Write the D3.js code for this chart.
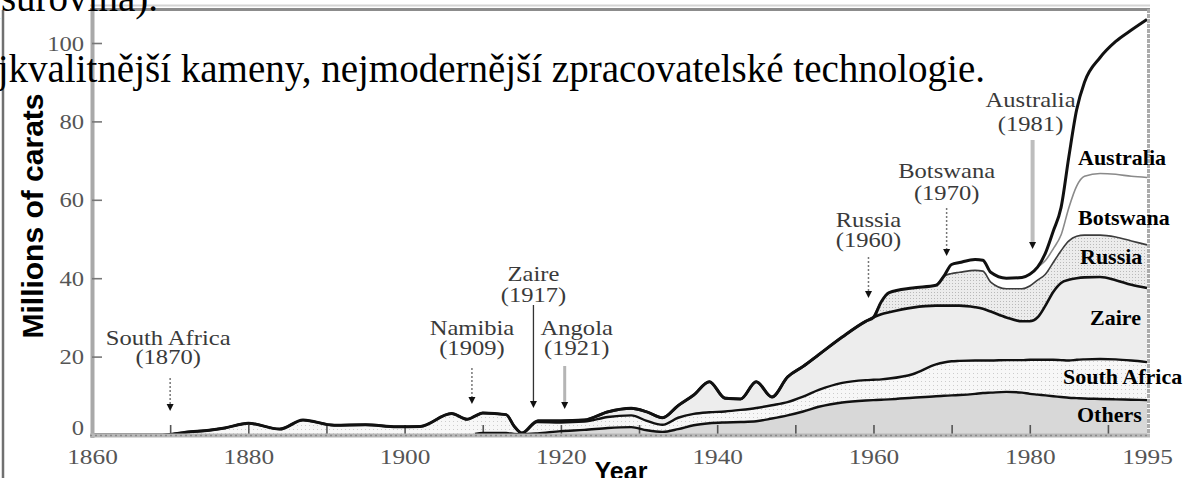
<!DOCTYPE html>
<html>
<head>
<meta charset="utf-8">
<script src="https://cdn.jsdelivr.net/npm/d3@7"></script>
<style>
  html, body { margin: 0; padding: 0; background: #fff; overflow: hidden; }
  svg { display: block; }
</style>
</head>
<body>
<div id="chart"></div>
<script>
// world diamond production, millions of carats
const years = [1860,1869,1870,1872,1875,1877,1880,1884,1887,1891,
               1895,1899,1902,1906,1908,1909,1910,1913,1914,1915,
               1917,1920,1923,1926,1929,1931,1933,1935,1937,1939,
               1941,1943,1945,1947,1949,1951,1953,1956,1959,1960,
               1961,1962,1965,1968,1969,1970,1971,1973,1974,1975,
               1977,1979,1980,1981,1982,1983,1984,1985,1986,1987,
               1989,1991,1993,1995];

const others = [0,0,0,0,0,0,0,0,0,0,
                0,0,0,0,0,0.3,0.5,0.5,0.3,0.2,
                0.4,1.0,1.3,1.8,2.0,1.2,0.8,1.5,2.5,3.0,
                3.2,3.3,3.5,4.2,5.0,6.0,7.2,8.3,8.8,8.9,
                9.0,9.1,9.5,9.9,10.0,10.1,10.2,10.5,10.7,10.8,
                11.0,10.8,10.5,10.3,10.1,9.9,9.7,9.5,9.4,9.3,
                9.2,9.1,9.0,8.9];

const southAfrica = [0,0,0.1,0.7,1.2,1.8,3.0,1.5,3.8,2.5,
                     2.6,2.1,2.2,5.5,4.0,4.5,5.1,4.7,2.0,0.3,
                     2.9,2.2,2.1,2.8,3.0,2.4,1.8,2.9,2.9,2.8,
                     2.8,3.1,3.4,3.4,3.4,3.8,4.3,5.0,5.2,5.2,
                     5.2,5.3,6.0,8.1,8.5,8.7,8.7,8.5,8.3,8.2,
                     8.1,8.3,8.7,8.9,9.1,9.3,9.4,9.5,9.8,10.0,
                     10.2,10.2,10.0,9.7];

const zaire = [0,0,0,0,0,0,0,0,0,0,
               0,0,0,0,0,0,0,0,0,0,
               0.3,0.4,0.4,1.3,1.8,2.3,1.8,3.1,4.8,7.8,
               3.4,2.8,6.7,2.1,6.4,7.7,9.0,11.7,15.0,15.9,
               16.6,16.9,17.0,15.0,14.5,14.2,14.1,13.6,13.2,12.5,
               10.9,9.9,9.8,10.8,13.8,17.3,19.7,20.6,20.8,20.9,
               20.9,20.2,19.3,18.9];

const russia = [0,0,0,0,0,0,0,0,0,0,
                0,0,0,0,0,0,0,0,0,0,
                0,0,0,0,0,0,0,0,0,0,
                0,0,0,0,0,0,0,0,0,0,
                3.2,5.0,5.0,5.2,7.5,8.2,8.5,9.4,9.6,7.5,
                7.3,8.3,9.0,9.5,8.0,7.5,8.2,9.9,10.7,10.8,
                10.7,11.0,11.2,11.0];

const botswana = [0,0,0,0,0,0,0,0,0,0,
                  0,0,0,0,0,0,0,0,0,0,
                  0,0,0,0,0,0,0,0,0,0,
                  0,0,0,0,0,0,0,0,0,0,
                  0,0,0,0,0,2.3,2.5,2.8,2.8,2.5,
                  2.7,2.9,3.0,3.3,3.5,3.5,4.0,8.5,12.8,15.0,
                  15.7,16.0,16.5,17.2];

const australia = [0,0,0,0,0,0,0,0,0,0,
                   0,0,0,0,0,0,0,0,0,0,
                   0,0,0,0,0,0,0,0,0,0,
                   0,0,0,0,0,0,0,0,0,0,
                   0,0,0,0,0,0,0,0,0,0,
                   0,0,0,0,1.9,4.5,7.0,13.0,19.5,24.0,
                   29.6,33.9,37.3,40.3];

const keys = ["others","southAfrica","zaire","russia","botswana","australia"];
const seriesLabels = ["Others","South Africa","Zaire","Russia","Botswana","Australia"];
const lineStart = [1909,1870,1917,1960,1969,1860];

const yTicks = [0,20,40,60,80,100];
const xTicks = [1860,1880,1900,1920,1940,1960,1980,1995];
const minorTicks = [1870,1880,1890,1900,1910,1920,1930,1940,1950,1960,1970,1980,1990];

const entryNames = ["South Africa","Namibia","Zaire","Angola","Russia","Botswana","Australia"];
const entryYears = [1870,1909,1917,1921,1960,1970,1981];

// layout only: arrow offset, arrow top/tip, label offset and baselines
const entryLayout = [
  {dx:0,  top:378, tip:411, ldx:-2, l1:345, l2:364, kind:"dash"},
  {dx:-3, top:368, tip:404, ldx:0,  l1:335, l2:355, kind:"dash"},
  {dx:-4, top:305, tip:408, ldx:0,  l1:281, l2:302, kind:"solid"},
  {dx:-4, top:366, tip:409, ldx:12, l1:335, l2:355, kind:"thick"},
  {dx:-5, top:257, tip:298, ldx:0,  l1:227, l2:247, kind:"dash"},
  {dx:-5, top:208, tip:256, ldx:0,  l1:178, l2:200, kind:"dash"},
  {dx:-5, top:140, tip:249, ldx:-2, l1:107, l2:131, kind:"wide"}
];
const sideLabelPos = [
  {x:1077, y:422}, {x:1063, y:384}, {x:1090, y:325},
  {x:1080, y:264}, {x:1078, y:225}, {x:1078, y:165}
];

const W = 1187, H = 478;
const serif = "'Liberation Serif','Times New Roman',serif";
const sans = "'Liberation Sans',Arial,sans-serif";

const svg = d3.select("#chart").append("svg")
  .attr("width", W).attr("height", H);

const x = d3.scaleLinear().domain([1860, 1995]).range([92, 1147]);
const y = d3.scaleLinear().domain([0, 100]).range([435, 43]);

const defs = svg.append("defs");
function dots(id, size, bg, fg) {
  const p = defs.append("pattern").attr("id", id)
    .attr("width", size).attr("height", size).attr("patternUnits", "userSpaceOnUse");
  p.append("rect").attr("width", size).attr("height", size).attr("fill", bg);
  p.append("rect").attr("x", 1).attr("y", 1).attr("width", 1).attr("height", 1).attr("fill", fg);
}
dots("dotsLight", 4, "#f7f7f7", "#cccccc");
dots("dotsRussia", 3, "#ececec", "#b9b9b9");

const fills = ["#d8d8d8", "url(#dotsLight)", "#ededed", "url(#dotsRussia)", "#ffffff", "#ffffff"];

const data = { others, southAfrica, zaire, russia, botswana, australia };
const rows = years.map((yr, i) => {
  const r = { year: yr };
  keys.forEach(k => r[k] = data[k][i]);
  return r;
});
const stacked = d3.stack().keys(keys)(rows);

const area = d3.area()
  .x(d => x(d.data.year))
  .y0(d => y(d[0]))
  .y1(d => y(d[1]))
  .curve(d3.curveMonotoneX);

svg.append("g").selectAll("path")
  .data(stacked)
  .join("path")
  .attr("d", area)
  .attr("fill", (d, i) => fills[i]);

// minor ticks on the year axis (drawn over the areas)
svg.append("g")
  .attr("transform", "translate(0,435)")
  .call(d3.axisBottom(x).tickValues(minorTicks).tickSize(-10).tickFormat("").tickSizeOuter(0))
  .call(g => g.select(".domain").remove())
  .call(g => g.selectAll("line").attr("stroke", "#555").attr("stroke-width", 1.6));

// boundary lines, thin ones first
const lineStyle = [
  {stroke:"#111", w:2.4}, {stroke:"#111", w:2.4}, {stroke:"#111", w:2.6},
  {stroke:"#3c3c3c", w:1.6}, {stroke:"#8a8a8a", w:1.6}, {stroke:"#111", w:3}
];
const drawOrder = [4, 3, 0, 1, 2, 5];
drawOrder.forEach(i => {
  const line = d3.line()
    .defined(d => d.data.year >= lineStart[i])
    .x(d => x(d.data.year))
    .y(d => y(d[1]))
    .curve(d3.curveMonotoneX);
  svg.append("path")
    .datum(stacked[i])
    .attr("d", line)
    .attr("fill", "none")
    .attr("stroke", lineStyle[i].stroke)
    .attr("stroke-width", lineStyle[i].w)
    .attr("stroke-linejoin", "round");
});

// frame
svg.append("line").attr("x1", 90).attr("x2", 1150).attr("y1", 5.5).attr("y2", 5.5)
  .attr("stroke", "#d4d4d4").attr("stroke-width", 2);
svg.append("line").attr("x1", 90).attr("x2", 1150).attr("y1", 9.5).attr("y2", 9.5)
  .attr("stroke", "#8c8c8c").attr("stroke-width", 3);
svg.append("line").attr("x1", 1148.5).attr("x2", 1148.5).attr("y1", 9).attr("y2", 436)
  .attr("stroke", "#ababab").attr("stroke-width", 3).attr("stroke-dasharray", "4,1");
svg.append("line").attr("x1", 92.5).attr("x2", 92.5).attr("y1", 8).attr("y2", 438)
  .attr("stroke", "#a9a9a9").attr("stroke-width", 4);
svg.append("line").attr("x1", 90).attr("x2", 1150).attr("y1", 435.5).attr("y2", 435.5)
  .attr("stroke", "#b8b8b8").attr("stroke-width", 4);
svg.append("line").attr("x1", 90).attr("x2", 1150).attr("y1", 435.5).attr("y2", 435.5)
  .attr("stroke", "#8a8a8a").attr("stroke-width", 1.5).attr("stroke-dasharray", "2,3");
svg.append("line").attr("x1", 3).attr("x2", 3).attr("y1", 10).attr("y2", H)
  .attr("stroke", "#707070").attr("stroke-width", 2.5);

// y axis
svg.append("g")
  .attr("transform", "translate(92,0)")
  .call(d3.axisLeft(y).tickValues(yTicks).tickSize(-10).tickPadding(7).tickSizeOuter(0))
  .call(g => g.select(".domain").remove())
  .call(g => g.selectAll("line").attr("stroke", "#777").attr("stroke-width", 1.6))
  .call(g => g.selectAll("text")
    .attr("fill", "#555").attr("font-family", serif).attr("font-size", 22)
    .attr("transform", "scale(1.12,1)"))
  .call(g => g.selectAll(".tick").filter(d => d === 0).select("text").attr("y", -8))
  .call(g => g.selectAll(".tick").filter(d => d === 0).select("line").remove());

// x axis labels
svg.append("g")
  .attr("transform", "translate(0,435)")
  .call(d3.axisBottom(x).tickValues(xTicks).tickSize(0).tickPadding(13).tickFormat(d3.format("d")))
  .call(g => g.select(".domain").remove())
  .call(g => g.selectAll("text")
    .attr("fill", "#555").attr("font-family", serif).attr("font-size", 22)
    .attr("transform", "scale(1.15,1)"));

// entry annotations
function stretched(px, py, str, size, fill) {
  svg.append("text")
    .attr("transform", `translate(${px},${py}) scale(1.17,1)`)
    .attr("text-anchor", "middle")
    .attr("font-family", serif).attr("font-size", size).attr("fill", fill)
    .text(str);
}
entryNames.forEach((name, i) => {
  const L = entryLayout[i];
  const ax = x(entryYears[i]) + L.dx;
  const st = {
    dash:  {stroke:"#777", w:1.5, dash:"2,2"},
    solid: {stroke:"#333", w:1.3, dash:null},
    thick: {stroke:"#b5b5b5", w:3, dash:null},
    wide:  {stroke:"#bdbdbd", w:4, dash:null}
  }[L.kind];
  svg.append("line")
    .attr("x1", ax).attr("x2", ax).attr("y1", L.top).attr("y2", L.tip - 6)
    .attr("stroke", st.stroke).attr("stroke-width", st.w)
    .attr("stroke-dasharray", st.dash);
  svg.append("path")
    .attr("d", `M${ax - 3.5},${L.tip - 7}L${ax + 3.5},${L.tip - 7}L${ax},${L.tip}Z`)
    .attr("fill", "#111");
  stretched(ax + L.ldx, L.l1, name, 21, "#3a3a3a");
  stretched(ax + L.ldx, L.l2, "(" + entryYears[i] + ")", 21, "#3a3a3a");
});

// series labels at the right edge
seriesLabels.forEach((s, i) => {
  svg.append("text")
    .attr("x", sideLabelPos[i].x).attr("y", sideLabelPos[i].y)
    .attr("font-family", serif).attr("font-size", 22).attr("font-weight", "bold")
    .attr("fill", "#000")
    .text(s);
});

// axis titles
svg.append("text")
  .attr("transform", "translate(43,216) rotate(-90)")
  .attr("text-anchor", "middle")
  .attr("font-family", sans).attr("font-size", 30).attr("font-weight", "bold")
  .attr("fill", "#000")
  .text("Millions of carats");
svg.append("text")
  .attr("x", 621).attr("y", 480)
  .attr("text-anchor", "middle")
  .attr("font-family", sans).attr("font-size", 25).attr("font-weight", "bold")
  .attr("fill", "#000")
  .text("Year");

// page text lying over the picture
svg.append("text")
  .attr("x", 158).attr("y", 11)
  .attr("text-anchor", "end")
  .attr("font-family", serif).attr("font-size", 39).attr("fill", "#000")
  .text("(surovina).");
svg.append("text")
  .attr("x", 985).attr("y", 82)
  .attr("text-anchor", "end")
  .attr("font-family", serif).attr("font-size", 39).attr("fill", "#000")
  .text("jkvalitnější kameny, nejmodernější zpracovatelské technologie.");
</script>
</body>
</html>
